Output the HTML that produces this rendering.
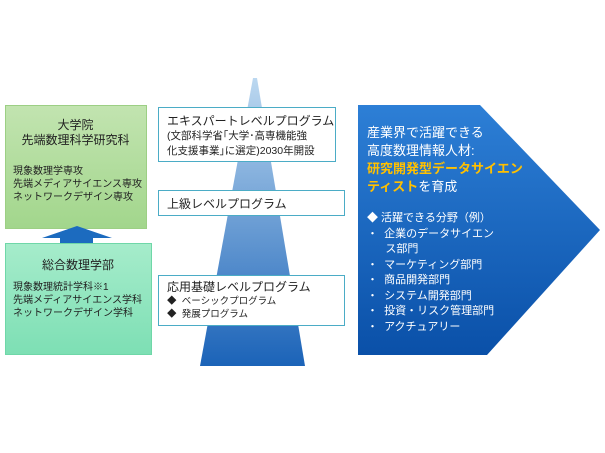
<!DOCTYPE html>
<html><head><meta charset="utf-8"><style>
body{margin:0;width:605px;height:453px;background:#fff;position:relative;overflow:hidden;font-family:"Liberation Sans","Noto Sans CJK JP",sans-serif;}
.a{position:absolute;}
.box{position:absolute;background:#fff;border:1px solid #4bacc6;box-sizing:border-box;color:#222;}
</style></head><body>
<svg class="a" style="left:0;top:0" width="605" height="453">
<defs>
<linearGradient id="tri" x1="0" y1="0" x2="0" y2="1"><stop offset="0" stop-color="#bcd8f0"/><stop offset="1" stop-color="#1b63b8"/></linearGradient>
<linearGradient id="g1" x1="0" y1="0" x2="0" y2="1"><stop offset="0" stop-color="#c2e4b0"/><stop offset="1" stop-color="#a2d68c"/></linearGradient>
<linearGradient id="g2" x1="0" y1="0" x2="0" y2="1"><stop offset="0" stop-color="#a6eccb"/><stop offset="1" stop-color="#7ddfb4"/></linearGradient>
<linearGradient id="bl" x1="0" y1="0" x2="0" y2="1"><stop offset="0" stop-color="#2d7fd6"/><stop offset="1" stop-color="#0a50a8"/></linearGradient>
</defs>
<polygon points="253,78 257,78 305,366 200,366" fill="url(#tri)"/>
<rect x="5.5" y="105.5" width="141" height="123" fill="url(#g1)" stroke="#9ccf84"/>
<rect x="5.5" y="243.5" width="146" height="111" fill="url(#g2)" stroke="#6fd7a8"/>
<polygon points="60,243 60,238 42,238 77,226 112,238 93,238 93,243" fill="#1c6bbf"/>
<polygon points="358,105 480,105 600,230 487,355 358,355" fill="url(#bl)"/>
</svg>
<div class="a" style="left:5px;top:118px;width:141px;text-align:center;font-size:12px;line-height:15px;color:#222">大学院<br>先端数理科学研究科</div>
<div class="a" style="left:13px;top:165px;font-size:10px;line-height:13px;color:#222">現象数理学専攻<br>先端メディアサイエンス専攻<br>ネットワークデザイン専攻</div>
<div class="a" style="left:5px;top:256px;width:146px;text-align:center;font-size:12px;color:#222">総合数理学部</div>
<div class="a" style="left:13px;top:281px;font-size:10px;line-height:13px;color:#222">現象数理統計学科※1<br>先端メディアサイエンス学科<br>ネットワークデザイン学科</div>
<div class="box" style="left:158px;top:107px;width:178px;height:55px;padding:5px 0 0 8px;font-size:12px;line-height:16px;white-space:nowrap">エキスパートレベルプログラム<div style="font-size:10.5px;line-height:15px">(文部科学省｢大学･高専機能強<br>化支援事業｣に選定)2030年開設</div></div>
<div class="box" style="left:158px;top:190px;width:187px;height:26px;padding:4px 0 0 8px;font-size:12px">上級レベルプログラム</div>
<div class="box" style="left:158px;top:275px;width:187px;height:51px;padding:4px 0 0 8px;font-size:12px;line-height:15px">応用基礎レベルプログラム<div style="font-size:9.5px;line-height:13px">◆&nbsp; ベーシックプログラム<br>◆&nbsp; 発展プログラム</div></div>
<div class="a" style="left:367px;top:124px;font-size:13px;line-height:18px;color:#fff">産業界で活躍できる<br>高度数理情報人材:<br><b style="color:#ffc000">研究開発型データサイエン<br>ティスト</b>を育成</div>
<div class="a" style="left:367px;top:211px;font-size:11px;line-height:15.5px;color:#fff">◆ 活躍できる分野（例）<br>・&nbsp; 企業のデータサイエン<br>&nbsp;&nbsp;&nbsp;&nbsp;&nbsp; ス部門<br>・&nbsp; マーケティング部門<br>・&nbsp; 商品開発部門<br>・&nbsp; システム開発部門<br>・&nbsp; 投資・リスク管理部門<br>・&nbsp; アクチュアリー</div>
</body></html>
